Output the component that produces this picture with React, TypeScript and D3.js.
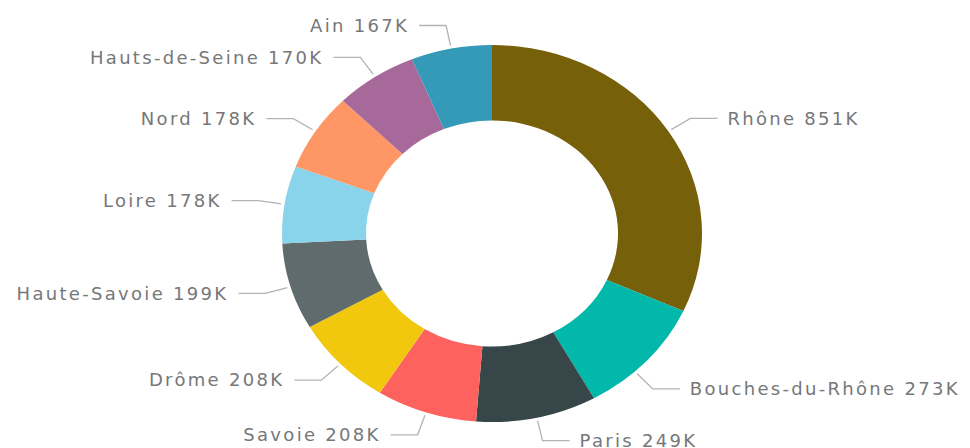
import * as d3 from "d3";
import React, { useEffect, useRef } from "react";

// values in thousands
const regions = [
  "Rhône",
  "Bouches-du-Rhône",
  "Paris",
  "Savoie",
  "Drôme",
  "Haute-Savoie",
  "Loire",
  "Nord",
  "Hauts-de-Seine",
  "Ain",
];
const values = [851, 273, 249, 208, 208, 199, 178, 178, 170, 167];
const colors = [
  "#766009",
  "#01B8AA",
  "#374649",
  "#FD625E",
  "#F2C80F",
  "#5F6B6D",
  "#8AD4EB",
  "#FE9666",
  "#A66999",
  "#3599B8",
];

interface Slice {
  name: string;
  value: number;
  color: string;
}

const App: React.FC = () => {
  const svgRef = useRef<SVGSVGElement | null>(null);

  useEffect(() => {
    if (!svgRef.current) return;

    const width = 970;
    const cx = 492;
    const cy = 233.5;
    const radius = 188.5;
    const innerRadius = radius * 0.6;
    const sx = 1.114; // horizontal stretch of the donut
    const elbowR = radius * 1.125;
    const segLen = 27;
    const gap = 10;
    const edge = 10;

    const data: Slice[] = regions.map((name, i) => ({ name, value: values[i], color: colors[i] }));

    const pie = d3
      .pie<Slice>()
      .sort(null)
      .value((d) => d.value);
    const arcs = pie(data);

    const arc = d3.arc<d3.PieArcDatum<Slice>>().innerRadius(innerRadius).outerRadius(radius);

    const svg = d3.select(svgRef.current);
    svg.selectAll("*").remove();

    svg
      .append("g")
      .attr("transform", `translate(${cx},${cy}) scale(${sx},1)`)
      .selectAll("path")
      .data(arcs)
      .join("path")
      .attr("fill", (d) => d.data.color)
      .attr("d", arc);

    // point on the stretched ellipse at angle a (radians, clockwise from top)
    const pt = (a: number, r: number): [number, number] => [cx + sx * r * Math.sin(a), cy - r * Math.cos(a)];

    const labels = svg.append("g");
    const lines = svg.append("g").attr("fill", "none").attr("stroke", "#b3b3b3").attr("stroke-width", 1.3);

    arcs.forEach((d) => {
      const text = labels
        .append("text")
        .attr("font-family", "'DejaVu Sans', sans-serif")
        .attr("font-size", 18)
        .attr("letter-spacing", "2.3px")
        .attr("fill", "#767779")
        .attr("dy", "0.35em")
        .text(`${d.data.name} ${d.data.value}K`);
      const w = (text.node() as SVGTextElement).getComputedTextLength();

      let a = (d.startAngle + d.endAngle) / 2;
      const fits = (ang: number) => {
        const [ex] = pt(ang, elbowR);
        return Math.sin(ang) >= 0 ? ex + segLen + gap + w <= width - edge : ex - segLen - gap - w >= edge;
      };
      // slide the label along its slice until the text fits in the frame
      const step = (0.5 * Math.PI) / 180;
      while (!fits(a)) {
        const dir = Math.sin(a) * Math.cos(a) > 0 ? -1 : 1;
        const next = a + dir * step;
        if (next < d.startAngle || next > d.endAngle) break;
        a = next;
      }

      const right = Math.sin(a) >= 0;
      const p0 = pt(a, radius + 3);
      const p1 = pt(a, elbowR);
      const p2: [number, number] = [p1[0] + (right ? segLen : -segLen), p1[1]];
      lines.append("path").attr("d", d3.line()([p0, p1, p2]));

      text
        .attr("x", p2[0] + (right ? gap : -gap))
        .attr("y", p2[1])
        .attr("text-anchor", right ? "start" : "end");
    });
  }, []);

  return (
    <svg
      ref={svgRef}
      width="970"
      height="448"
      style={{ position: "absolute", left: 0, top: 0, background: "#fff" }}
    />
  );
};

export default App;
